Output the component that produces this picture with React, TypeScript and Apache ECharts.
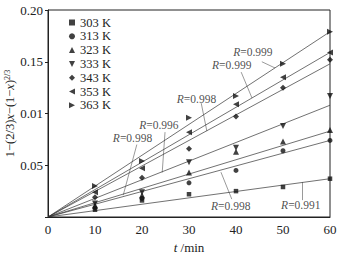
import React, { useEffect, useRef } from "react";
import * as echarts from "echarts";

const times = [10, 20, 30, 40, 50, 60];
const temps = ["303 K", "313 K", "323 K", "333 K", "343 K", "353 K", "363 K"];
const k303 = [0.007, 0.016, 0.022, 0.025, 0.029, 0.037];
const k313 = [0.009, 0.018, 0.033, 0.045, 0.064, 0.074];
const k323 = [0.011, 0.021, 0.043, 0.063, 0.073, 0.084];
const k333 = [0.013, 0.024, 0.053, 0.067, 0.088, 0.117];
const k343 = [0.019, 0.038, 0.066, 0.097, 0.125, 0.152];
const k353 = [0.024, 0.047, 0.082, 0.109, 0.135, 0.159];
const k363 = [0.030, 0.054, 0.096, 0.117, 0.148, 0.179];
const seriesValues = [k303, k313, k323, k333, k343, k353, k363];
// fitted straight line values at t = 0 and t = 60
const fitTimes = [0, 60];
const fitEnd = [0.037, 0.074, 0.083, 0.108, 0.148, 0.159, 0.179];
const rValues = ["0.999", "0.999", "0.998", "0.996", "0.998", "0.998", "0.991"];
// annotation anchors in data space: label [t, y], leader from/to [t, y]
const rLabelAt = [
  [39.4, 0.159], [34.9, 0.147], [27.4, 0.114], [19.4, 0.089],
  [13.8, 0.076], [34.7, 0.0106], [49.6, 0.0115],
];
const leaderFrom = [
  [45.5, 0.150], [41.1, 0.140], [32.6, 0.110], [24.9, 0.082],
  [18.9, 0.070], [39.1, 0.0173], [54.0, 0.0163],
];
const leaderTo = [
  [48.3, 0.144], [43.4, 0.115], [33.8, 0.083], [24.3, 0.043],
  [16.0, 0.021], [36.8, 0.0433], [54.0, 0.0337],
];
const yTickLabels = ["", "0.05", "0.01", "0.15", "0.20"];

const symbols = ["rect", "circle", "triangle", "triangle", "diamond", "triangle", "triangle"];
const symbolRotates = [0, 0, 0, 180, 0, 90, -90];
const symbolSizes = [4.5, 5, 6, 6, 6, 6, 6];
const legendIcons = [
  "rect", "circle", "triangle",
  "path://M0,0L10,0L5,10Z", "diamond",
  "path://M10,0L0,5L10,10Z", "path://M0,0L10,5L0,10Z",
];

const FONT = "'Liberation Serif', 'DejaVu Serif', serif";

export default function App() {
  const ref = useRef<HTMLDivElement>(null);
  useEffect(() => {
    if (!ref.current) return;
    const chart = echarts.init(ref.current, undefined, { renderer: "svg" });
    const series: any[] = [];
    temps.forEach((name, i) => {
      series.push({
        type: "line",
        name: "fit " + name,
        data: fitTimes.map((t, j) => [t, j === 0 ? 0 : fitEnd[i]]),
        symbol: "none",
        silent: true,
        lineStyle: { color: "#333", width: 0.7 },
        z: 2,
      });
    });
    temps.forEach((name, i) => {
      series.push({
        type: "scatter",
        name,
        data: times.map((t, j) => [t, seriesValues[i][j]]),
        symbol: symbols[i],
        symbolRotate: symbolRotates[i],
        symbolSize: symbolSizes[i],
        itemStyle: { color: "#111" },
        z: 3,
      });
    });
    series.push({
      type: "lines",
      coordinateSystem: "cartesian2d",
      silent: true,
      data: leaderFrom.map((f, i) => ({ coords: [f, leaderTo[i]] })),
      lineStyle: { color: "#555", width: 0.6, opacity: 1 },
      z: 2,
    });
    series.push({
      type: "scatter",
      name: "R labels",
      silent: true,
      symbolSize: 0,
      data: rLabelAt.map((p) => p),
      label: {
        show: true,
        position: "right",
        distance: 0,
        formatter: (p: any) => "{i|R}{n|=" + rValues[p.dataIndex] + "}",
        rich: {
          i: { fontStyle: "italic", fontFamily: FONT, fontSize: 11.5, lineHeight: 10, color: "#222" },
          n: { fontFamily: FONT, fontSize: 11.5, lineHeight: 10, color: "#222" },
        },
      },
      z: 4,
    });

    chart.setOption({
      animation: false,
      backgroundColor: "#fff",
      textStyle: { fontFamily: FONT },
      grid: {
        left: 48, right: 18, top: 10, bottom: 37,
        outerBoundsMode: "none",
        containLabel: false,
        show: true, borderColor: "#222", borderWidth: 1,
      },
      legend: {
        data: temps.map((name, i) => ({ name, icon: legendIcons[i] })),
        orient: "vertical",
        left: 69,
        top: 16,
        padding: 0,
        itemGap: 0.8,
        itemWidth: 6,
        itemHeight: 6,
        textStyle: { fontFamily: FONT, fontSize: 12.5, color: "#222", lineHeight: 10.4 },
        selectedMode: false,
      },
      xAxis: {
        type: "value",
        min: 0,
        max: 60,
        interval: 10,
        name: "{i|t} /min",
        nameLocation: "middle",
        nameGap: 22,
        nameTextStyle: {
          fontFamily: FONT, fontSize: 13, color: "#222",
          rich: { i: { fontStyle: "italic", fontFamily: FONT, fontSize: 13, color: "#222" } },
        },
        axisLine: { lineStyle: { color: "#222", width: 1 } },
        axisTick: { show: false },
        axisLabel: { fontFamily: FONT, fontSize: 13, color: "#222", margin: 6 },
        splitLine: { show: false },
      },
      yAxis: {
        type: "value",
        min: 0,
        max: 0.2,
        interval: 0.05,
        name: "1−(2/3){i|x}−(1−{i|x}){s|2/3}",
        nameLocation: "middle",
        nameGap: 32,
        nameRotate: 90,
        nameMoveOverlap: false,
        nameTextStyle: {
          fontFamily: FONT, fontSize: 12.5, lineHeight: 13, color: "#222",
          rich: {
            i: { fontStyle: "italic", fontFamily: FONT, fontSize: 12.5, lineHeight: 13, color: "#222" },
            s: { fontFamily: FONT, fontSize: 8, lineHeight: 13, color: "#222", verticalAlign: "top" },
          },
        },
        axisLine: { show: true, lineStyle: { color: "#222", width: 1 } },
        axisTick: { show: true, inside: false, length: 3, lineStyle: { color: "#222" } },
        axisLabel: {
          fontFamily: FONT, fontSize: 13, color: "#222", margin: 5,
          formatter: (_v: number, idx: number) => yTickLabels[idx] ?? "",
        },
        splitLine: { show: false },
      },
      series,
    });
    return () => chart.dispose();
  }, []);
  return <div ref={ref} style={{ width: 348, height: 254, position: "absolute", left: 0, top: 0 }} />;
}
